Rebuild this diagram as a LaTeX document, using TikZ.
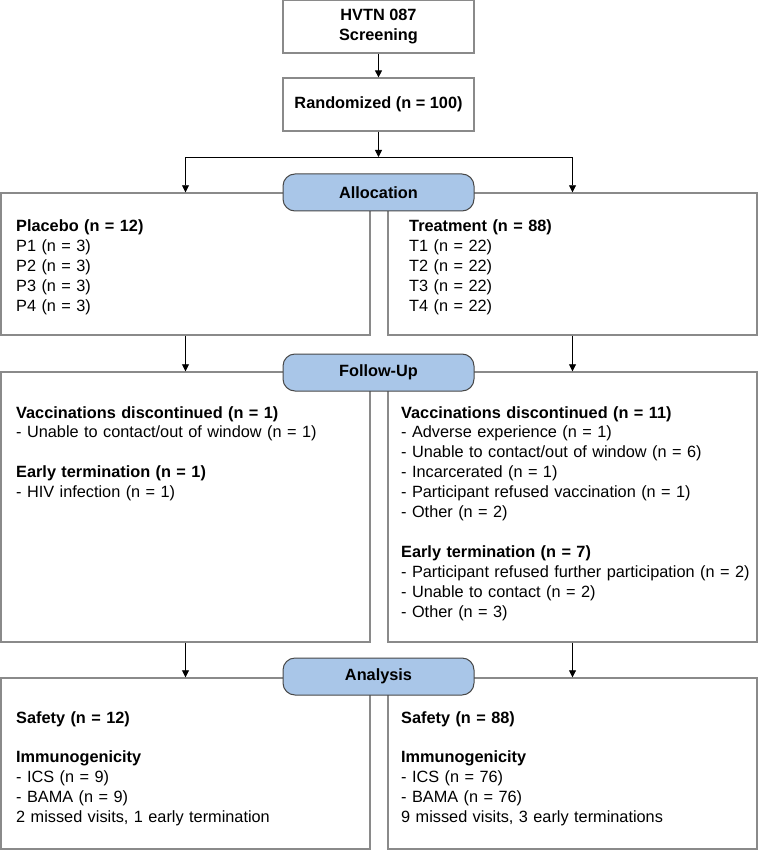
\documentclass[tikz,border=0pt]{standalone}
\usepackage{fontspec}
\setmainfont{Liberation Sans}
\usetikzlibrary{arrows.meta}

\definecolor{boxgray}{HTML}{8A8A8A}
\definecolor{pillblue}{HTML}{A9C6E8}
\definecolor{pilledge}{HTML}{484848}

\newcommand{\chartfont}{\fontsize{16.3}{19.9}\selectfont}

\tikzset{
  topbox/.style={draw=boxgray, line width=1.2pt, minimum width=191pt, minimum height=53pt, align=center, font=\chartfont\bfseries},
  group/.style={draw=boxgray, line width=1.4pt, minimum width=369pt, inner sep=0pt},
  stage/.style={draw=pilledge, fill=pillblue, line width=1pt, rounded corners=12pt, minimum width=191pt, minimum height=37pt, font=\chartfont\bfseries},
  entry/.style={anchor=base west, align=left, text width=356pt, inner sep=0pt, font=\chartfont},
  flow/.style={-{Triangle[length=7pt,width=7pt]}, line width=0.8pt}
}

\begin{document}
\begin{tikzpicture}[x=1pt, y=-1pt]
    \useasboundingbox (0,0) rectangle (758,850);

    \node[topbox] (screen) at (378.5,26.5) {HVTN 087\\Screening};
    \node[topbox] (rand)   at (378.5,104.5) {Randomized (n = 100)};
    \coordinate (split) at (378.5,157);

    \node[group, minimum height=142pt] (plac)  at (185.5,264) {};
    \node[group, minimum height=142pt] (treat) at (572.5,264) {};
    \node[group, minimum height=270pt] (plfu)  at (185.5,507) {};
    \node[group, minimum height=270pt] (trfu)  at (572.5,507) {};
    \node[group, minimum height=171pt] (plan)  at (185.5,763.5) {};
    \node[group, minimum height=171pt] (tran)  at (572.5,763.5) {};

    \draw[flow] (screen) -- (rand);
    \draw[flow] (rand) -- (split);
    \draw[flow] (split) -| (plac.north);
    \draw[flow] (split) -| (treat.north);
    \draw[flow] (plac) -- (plfu);
    \draw[flow] (treat) -- (trfu);
    \draw[flow] (plfu) -- (plan);
    \draw[flow] (trfu) -- (tran);

    \node[stage] (alloc)  at (378.5,192.5) {Allocation};
    \node[stage] (follow) at (378.5,372.5) {Follow-Up};
    \node[stage] (anal)   at (378.5,676.5) {Analysis};

    \node[entry] (placlist) at (16,232) {\textbf{Placebo (n = 12)}\\P1 (n = 3)\\P2 (n = 3)\\P3 (n = 3)\\P4 (n = 3)};
    \node[entry] (treatlist) at (409,232) {\textbf{Treatment (n = 88)}\\T1 (n = 22)\\T2 (n = 22)\\T3 (n = 22)\\T4 (n = 22)};

    \node[entry] (plfulist) at (16,418) {\textbf{Vaccinations discontinued (n = 1)}\\- Unable to contact/out of window (n = 1)\\[19.9pt]\textbf{Early termination (n = 1)}\\- HIV infection (n = 1)};
    \node[entry] (trfulist) at (401,418) {\textbf{Vaccinations discontinued (n = 11)}\\- Adverse experience (n = 1)\\- Unable to contact/out of window (n = 6)\\- Incarcerated (n = 1)\\- Participant refused vaccination (n = 1)\\- Other (n = 2)\\[19.9pt]\textbf{Early termination (n = 7)}\\- Participant refused further participation (n = 2)\\- Unable to contact (n = 2)\\- Other (n = 3)};

    \node[entry] (planlist) at (16,723) {\textbf{Safety (n = 12)}\\[19.9pt]\textbf{Immunogenicity}\\- ICS (n = 9)\\- BAMA (n = 9)\\2 missed visits, 1 early termination};
    \node[entry] (tranlist) at (401,723) {\textbf{Safety (n = 88)}\\[19.9pt]\textbf{Immunogenicity}\\- ICS (n = 76)\\- BAMA (n = 76)\\9 missed visits, 3 early terminations};
\end{tikzpicture}
\end{document}
